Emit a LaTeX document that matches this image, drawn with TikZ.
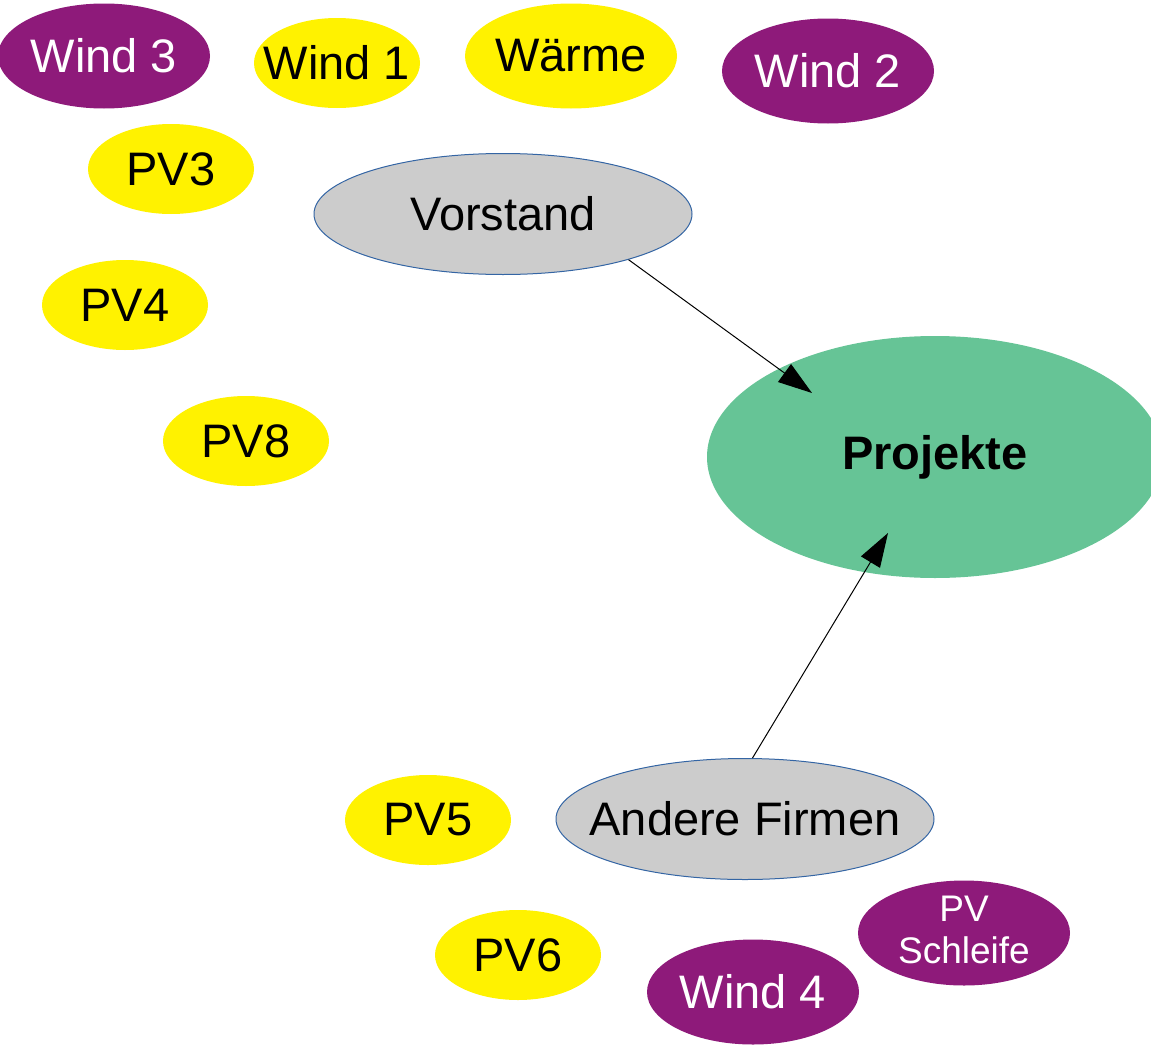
\documentclass[tikz,border=0pt]{standalone}
\usepackage{fontspec}
\setmainfont{Liberation Sans}
\usetikzlibrary{shapes.geometric,arrows.meta}
\definecolor{lila}{RGB}{142,26,122}
\definecolor{gelb}{RGB}{255,242,0}
\definecolor{gruen}{RGB}{102,196,150}
\definecolor{grau}{RGB}{204,204,204}
\definecolor{rand}{RGB}{52,101,164}
\newcommand\zt[1]{\makebox[0pt]{#1}}
\begin{document}
\begin{tikzpicture}[x=.5pt, y=-.5pt, font=\fontsize{23.5}{26}\selectfont, line join=round, >={Triangle[length=17pt,width=11pt]}]
			\tikzset{blase/.style={ellipse, inner sep=0pt, minimum width=83pt, minimum height=45pt}}
			\tikzset{gelbblase/.style={blase, fill=gelb}}
			\tikzset{lilablase/.style={blase, fill=lila, text=white, minimum width=106pt, minimum height=52.5pt}}
			\tikzset{graublase/.style={blase, fill=grau, draw=rand, line width=.5pt, minimum width=189pt, minimum height=60.5pt}}
			\useasboundingbox (0,0) rectangle (1151,1044);
			% oben
			\node[lilablase] (wind3) at (104,56) {\zt{Wind 3}};
			\node[gelbblase] (wind1) at (337,63) {\zt{Wind 1}};
			\node[gelbblase, minimum width=106pt, minimum height=52.5pt] (waerme) at (571,56) {\zt{Wärme}};
			\node[lilablase] (wind2) at (828,71) {\zt{Wind 2}};
			\node[gelbblase] (pv3) at (171,169) {\zt{PV3}};
			\node[gelbblase] (pv4) at (125,305) {\zt{PV4}};
			\node[gelbblase] (pv8) at (246,441) {\zt{PV8}};
			\node[graublase] (vorstand) at (503,214) {\zt{Vorstand}};
			\node[blase, fill=gruen, minimum width=228pt, minimum height=121pt, font=\fontsize{23.5}{26}\selectfont\bfseries] (projekte) at (935,457) {\zt{Projekte}};
			% unten
			\node[graublase] (andere) at (745,819) {\zt{Andere Firmen}};
			\node[gelbblase] (pv5) at (428,820) {\zt{PV5}};
			\node[gelbblase] (pv6) at (518,955) {\zt{PV6}};
			\node[lilablase] (wind4) at (753,992) {\zt{Wind 4}};
			\node[lilablase, font=\fontsize{18.5}{21}\selectfont, text height=14pt, text depth=4pt] (schleife) at (964,933) {\zt{\begin{tabular}{@{}c@{}}PV\\Schleife\end{tabular}}};
			\coordinate (ziel1) at (812,393);
			\coordinate (ziel2) at (888,533);
			\draw[->, line width=.5pt] (vorstand.-20) -- (ziel1);
			\draw[->, line width=.5pt] (andere.83) -- (ziel2);
		\end{tikzpicture}
\end{document}
